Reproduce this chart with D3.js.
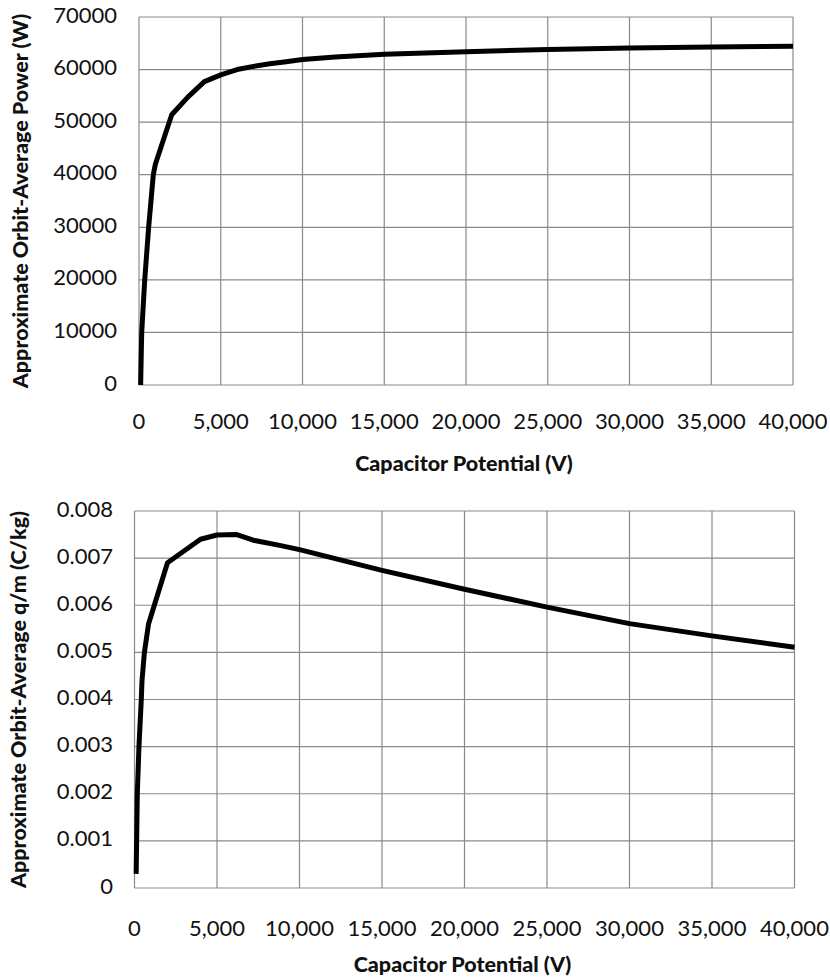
<!DOCTYPE html>
<html lang="en">
<head>
  <meta charset="UTF-8">
  <title>Orbit-Average Power and q/m vs Capacitor Potential</title>
  <script src="https://d3js.org/d3.v7.min.js"></script>
  <style>
    body { margin: 0; background: #fff; }
    svg { display: block; font-family: Lato, "Noto Sans", sans-serif; }
    .tick-label { font-size: 22px; fill: #111; }
    .axis-title { font-size: 21.5px; font-weight: 900; fill: #111; }
  </style>
</head>
<body>
  <svg width="830" height="978"></svg>

  <script>
    // --- data ---
    const powerVolts = [100, 165, 350, 590, 875, 1000, 2000, 3000, 4000, 5000, 6000, 7000, 8000, 9000, 10000, 12000, 15000, 20000, 25000, 30000, 35000, 40000];
    const powerWatts = [0, 10000, 20000, 30000, 40000, 42000, 51400, 54800, 57700, 59000, 60000, 60600, 61100, 61500, 61900, 62400, 62900, 63400, 63800, 64100, 64300, 64450];

    const qmVolts = [100, 170, 270, 412, 455, 600, 850, 2000, 4000, 5000, 6200, 7200, 8800, 10000, 15000, 20000, 25000, 30000, 35000, 40000];
    const qmValues = [0.0003, 0.002, 0.003, 0.004, 0.0044, 0.005, 0.0056, 0.0069, 0.0074, 0.00749, 0.0075, 0.00738, 0.00727, 0.00718, 0.00674, 0.00634, 0.00596, 0.00561, 0.00535, 0.00511];

    const xTicks = [0, 5000, 10000, 15000, 20000, 25000, 30000, 35000, 40000];
    const powerTicks = [0, 10000, 20000, 30000, 40000, 50000, 60000, 70000];
    const qmTicks = [0, 0.001, 0.002, 0.003, 0.004, 0.005, 0.006, 0.007, 0.008];

    const svg = d3.select("svg");

    function drawChart(cfg) {
      const x = d3.scaleLinear().domain([0, 40000]).range([cfg.left, cfg.right]);
      const y = d3.scaleLinear().domain(cfg.yDomain).range([cfg.bottom, cfg.top]);
      const g = svg.append("g");

      // gridlines
      g.selectAll(".vgrid").data(xTicks).join("line")
        .attr("x1", d => x(d)).attr("x2", d => x(d))
        .attr("y1", cfg.top).attr("y2", cfg.bottom)
        .attr("stroke", "#8a8a8a").attr("stroke-width", 1.2);
      g.selectAll(".hgrid").data(cfg.yTicks).join("line")
        .attr("x1", cfg.left).attr("x2", cfg.right)
        .attr("y1", d => y(d)).attr("y2", d => y(d))
        .attr("stroke", "#8a8a8a").attr("stroke-width", 1.2);

      // tick labels
      g.selectAll(".xl").data(xTicks).join("text")
        .attr("class", "tick-label")
        .attr("x", d => x(d)).attr("y", cfg.xLabelY)
        .attr("text-anchor", "middle")
        .attr("dominant-baseline", "middle")
        .text(d => d3.format(",")(d));
      g.selectAll(".yl").data(cfg.yTicks).join("text")
        .attr("class", "tick-label")
        .attr("x", cfg.yLabelX).attr("y", d => y(d))
        .attr("text-anchor", "end")
        .attr("dominant-baseline", "middle")
        .text(cfg.yFormat);

      // titles
      g.append("text").attr("class", "axis-title")
        .attr("x", (cfg.left + cfg.right) / 2 - 2).attr("y", cfg.xTitleY)
        .attr("text-anchor", "middle").attr("dominant-baseline", "middle")
        .text("Capacitor Potential (V)");
      g.append("text").attr("class", "axis-title")
        .attr("transform", `translate(${cfg.yTitleX},${(cfg.top + cfg.bottom) / 2}) rotate(-90)`)
        .attr("text-anchor", "middle").attr("dominant-baseline", "middle")
        .text(cfg.yTitle);

      // curve
      const line = d3.line().x(d => x(d[0])).y(d => y(d[1]));
      g.append("path")
        .datum(d3.zip(cfg.xs, cfg.ys))
        .attr("fill", "none")
        .attr("stroke", "#000")
        .attr("stroke-width", 5)
        .attr("stroke-linejoin", "round")
        .attr("d", line);
    }

    drawChart({
      left: 139, right: 793, top: 17, bottom: 385,
      yDomain: [0, 70000], yTicks: powerTicks, yFormat: d => d,
      xs: powerVolts, ys: powerWatts,
      yLabelX: 117, xLabelY: 423, xTitleY: 465, yTitleX: 22,
      yTitle: "Approximate Orbit-Average Power (W)"
    });

    drawChart({
      left: 134.5, right: 794.5, top: 511, bottom: 888,
      yDomain: [0, 0.008], yTicks: qmTicks, yFormat: d => d === 0 ? "0" : d3.format(".3f")(d),
      xs: qmVolts, ys: qmValues,
      yLabelX: 113, xLabelY: 930, xTitleY: 966, yTitleX: 20,
      yTitle: "Approximate Orbit-Average q/m (C/kg)"
    });
  </script>
</body>
</html>
